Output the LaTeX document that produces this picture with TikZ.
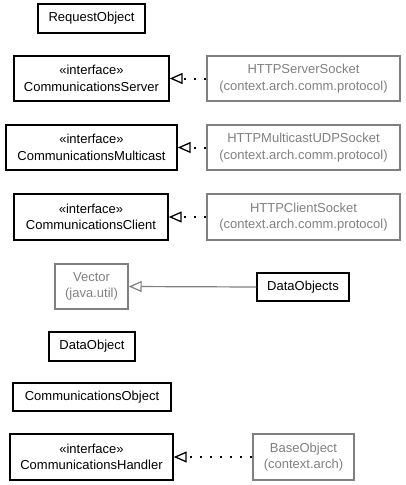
\documentclass[tikz,border=0pt]{standalone}
\usepackage{fontspec}
\setmainfont{Liberation Sans}
\usetikzlibrary{arrows.meta}
\definecolor{ext}{HTML}{808080}
\begin{document}
\begin{tikzpicture}[x=1pt,y=-1pt,
  cls/.style={draw=black,line width=1.4pt,inner sep=0pt,align=center,
    font=\fontsize{13}{16.5}\selectfont,text=black},
  extcls/.style={cls,draw=ext,text=ext},
  realize/.style={line width=2pt,dash pattern=on 2pt off 8pt,
    -{Triangle[open,length=13pt,width=11pt,line width=1.3pt,sep=0pt]}},
  inherit/.style={draw=ext,line width=1.2pt,
    -{Triangle[open,length=13pt,width=11pt,line width=1.2pt]}}]
\useasboundingbox (0,0) rectangle (405,485);
\node[cls,minimum width=107pt,minimum height=29pt] (req) at (91.5,18.5) {RequestObject};
\node[cls,minimum width=155pt,minimum height=45pt] (srv) at (91.5,78.5) {«interface»\\CommunicationsServer};
\node[extcls,minimum width=193pt,minimum height=45pt] (hss) at (303.5,78.5) {HTTPServerSocket\\(context.arch.comm.protocol)};
\node[cls,minimum width=171pt,minimum height=45pt] (mc) at (91.5,147.5) {«interface»\\CommunicationsMulticast};
\node[extcls,minimum width=193pt,minimum height=45pt] (hmc) at (303.5,147.5) {HTTPMulticastUDPSocket\\(context.arch.comm.protocol)};
\node[cls,minimum width=154pt,minimum height=46pt] (cli) at (91,217) {«interface»\\CommunicationsClient};
\node[extcls,minimum width=193pt,minimum height=46pt] (hcs) at (303.5,217) {HTTPClientSocket\\(context.arch.comm.protocol)};
\node[extcls,minimum width=73pt,minimum height=45pt] (vec) at (91.5,286.5) {Vector\\(java.util)};
\node[cls,minimum width=92pt,minimum height=28pt] (dos) at (303,287) {DataObjects};
\node[cls,minimum width=86pt,minimum height=29pt] (do) at (92,346.5) {DataObject};
\node[cls,minimum width=158pt,minimum height=28pt] (co) at (92,397) {CommunicationsObject};
\node[cls,minimum width=163pt,minimum height=46pt] (ch) at (91.5,457) {«interface»\\CommunicationsHandler};
\node[extcls,minimum width=101pt,minimum height=46pt] (bo) at (303.5,457) {BaseObject\\(context.arch)};
\draw[realize] (hss.west) -- (srv.east);
\draw[realize] (hmc.west) -- (mc.east);
\draw[realize] (hcs.west) -- (cli.east);
\draw[inherit] (dos.west) -- (vec.east);
\draw[realize] (bo.west) -- (ch.east);
\end{tikzpicture}
\end{document}
